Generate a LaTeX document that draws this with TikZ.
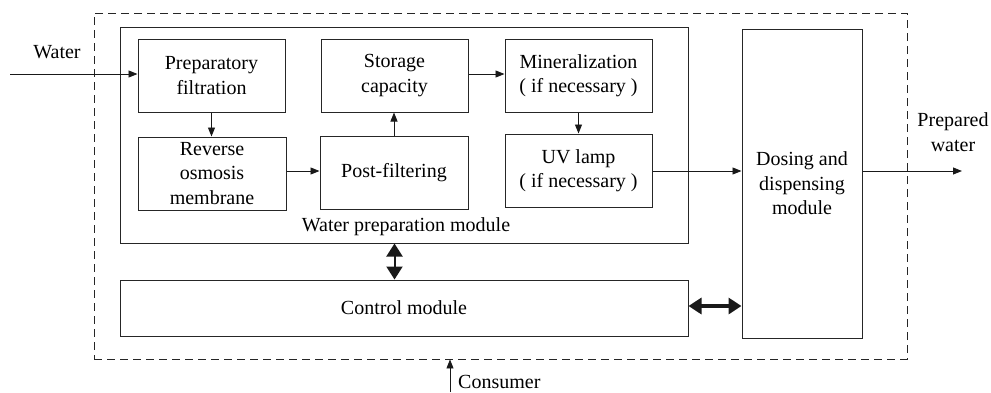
\documentclass[tikz,border=0pt]{standalone}
\usepackage{fontspec}
\setmainfont{Liberation Serif}
\newfontfamily\tnr{Liberation Serif}
\usetikzlibrary{arrows.meta,calc}
\begin{document}
\begin{tikzpicture}[x=1pt,y=-1pt,
  every node/.style={font=\tnr\fontsize{20}{24.5}\selectfont, inner sep=0pt},
  blk/.style={draw=black!85, line width=1pt, align=center},
  flow/.style={draw=black!90, line width=0.9pt, -{Triangle[length=9pt,width=7pt]}},
  bigarr/.style={draw=black!90, line width=3.5pt, {Triangle[length=13pt,width=16pt]}-{Triangle[length=13pt,width=16pt]}, shorten <=0pt, shorten >=0pt},
  lbl/.style={align=center}]
\useasboundingbox (0,0) rectangle (991,392);
\node[draw=black!85, dash pattern=on 8pt off 5pt, line width=0.9pt, minimum width=813pt, minimum height=346pt] (outer) at (500.5,186) {};
\node[blk, minimum width=568pt, minimum height=216pt] (wpm) at (404,135) {};
\node[blk, minimum width=568pt, minimum height=56pt] (ctrl) at (404,308) {Control module};
\node[blk, minimum width=120pt, minimum height=309pt] (dose) at (802,183.5) {Dosing and\\dispensing\\module};
\node[blk, minimum width=147pt, minimum height=73pt] (prep) at (211.5,75.5) {Preparatory\\filtration};
\node[blk, minimum width=147pt, minimum height=73pt] (stor) at (394.5,75.5) {Storage\\capacity};
\node[blk, minimum width=147pt, minimum height=73pt] (mine) at (578.5,75.5) {Mineralization\\( if necessary )};
\node[blk, minimum width=148pt, minimum height=73pt] (ro) at (212,173.5) {Reverse\\osmosis\\membrane};
\node[blk, minimum width=148pt, minimum height=73pt] (post) at (394,172.5) {Post-filtering};
\node[blk, minimum width=147pt, minimum height=73pt] (uv) at (578.5,170.5) {UV lamp\\( if necessary )};
\node[lbl] (wpmlbl) at (406,227) {Water preparation module};
\node[lbl] (water) at (57,52) {Water};
\node[lbl] (prepared) at (953,132) {Prepared\\water};
\node[lbl, anchor=west] (cons) at (458,382) {Consumer};
\coordinate (win) at (10,74);
\coordinate (wout) at (962,171);
\coordinate (cin) at (450,392);
\draw[flow] (win) -- (win -| prep.west);
\draw[flow] (prep.south) -- (prep.south |- ro.north);
\draw[flow] (ro.east |- 0,171) -- (post.west |- 0,171);
\draw[flow] (post.north) -- (post.north |- stor.south);
\draw[flow] (stor.east |- 0,74) -- (mine.west |- 0,74);
\draw[flow] (mine.south) -- (mine.south |- uv.north);
\draw[flow] (uv.east |- wout) -- (dose.west |- wout);
\draw[flow] (dose.east |- wout) -- (wout);
\draw[flow] (cin) -- (cin |- outer.south);
\draw[bigarr, line width=2pt] (stor.south |- wpm.south) -- (stor.south |- ctrl.north);
\draw[bigarr] (ctrl.east |- 0,306) -- (dose.west |- 0,306);
\end{tikzpicture}
\end{document}
